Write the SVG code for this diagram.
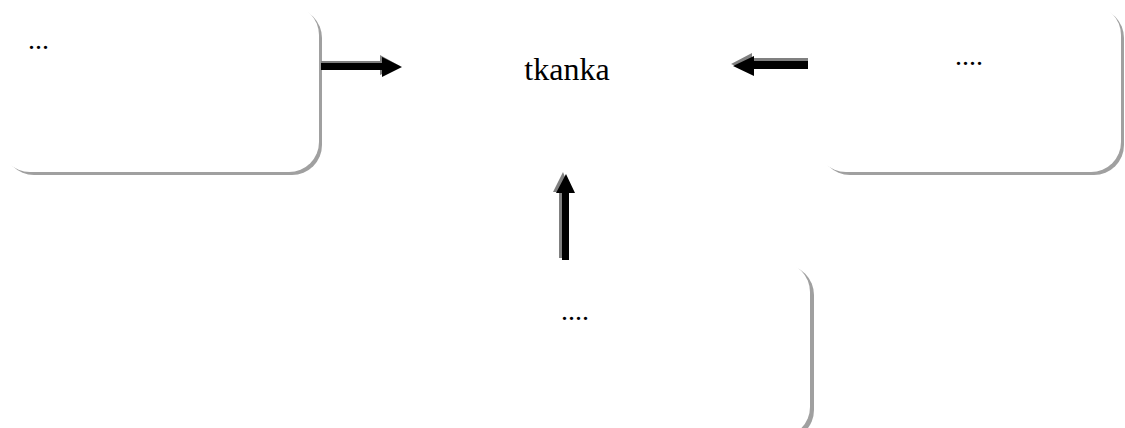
<svg xmlns="http://www.w3.org/2000/svg" width="1125" height="428" viewBox="0 0 1125 428">
<style>
.shadow{fill:#a0a0a0}
.box{fill:#ffffff}
.t{font-family:"Liberation Serif","Times New Roman",serif;font-size:28px;fill:#000}
.big{font-size:32px}
.ash{fill:#808080}
.ar{fill:#000}
</style>
<rect width="1125" height="428" fill="#fff"/>
<g id="node-left">
<rect class="shadow" x="4" y="8" width="318" height="167" rx="30"/>
<rect class="box" x="0" y="5" width="319" height="167" rx="30"/>
<text class="t" x="28" y="49">...</text>
</g>
<g id="node-center">
<text class="t big" x="567" y="80" text-anchor="middle">tkanka</text>
</g>
<g id="node-right">
<rect class="shadow" x="820" y="8" width="304" height="167" rx="30"/>
<rect class="box" x="816" y="5" width="305" height="167" rx="30"/>
<text class="t" x="955" y="65">....</text>
</g>
<g id="node-bottom">
<rect class="shadow" x="349" y="265" width="465" height="175" rx="30"/>
<rect class="box" x="345" y="262" width="465" height="175" rx="30"/>
<text class="t" x="561" y="320">....</text>
</g>
<g id="connectors">
<polygon class="ash" points="321,61 380,61 380,55 400,66 380,75 380,68 321,68"/>
<polygon class="ar" points="321,63 382,63 382,57 402,67 382,77 382,70 321,70"/>
<polygon class="ash" points="808,58 752,58 752,53 731,64 752,73 752,66 808,66"/>
<polygon class="ar" points="808,61 754,61 754,56 733,66 754,76 754,69 808,69"/>
<polygon class="ash" points="559,258 559,192 553,192 563,172 571,192 566,192 566,258"/>
<polygon class="ar" points="562,260 562,193 556,193 566,174 575,193 569,193 569,260"/>
</g>
</svg>
